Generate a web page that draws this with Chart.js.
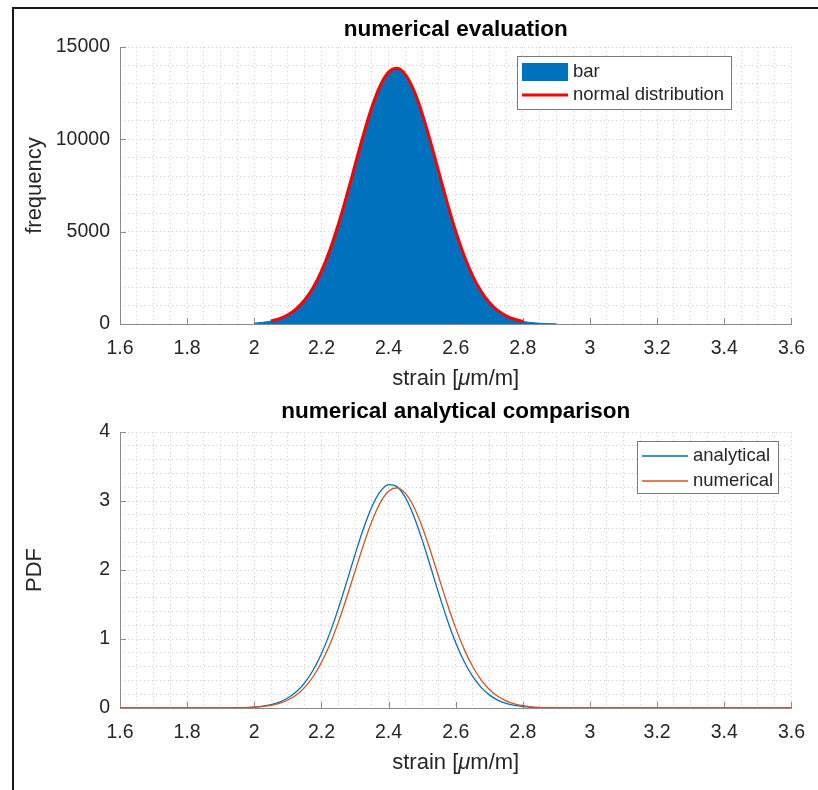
<!DOCTYPE html>
<html><head><meta charset="utf-8">
<script src="https://cdn.jsdelivr.net/npm/chart.js@4.4.0/dist/chart.umd.min.js"></script>
<style>
html,body{margin:0;padding:0;background:#fff;width:818px;height:790px;overflow:hidden}
#frame{position:absolute;left:12px;top:7px;width:830px;height:810px;border-left:2px solid #1a1a1a;border-top:2px solid #1a1a1a}
canvas{position:absolute;left:0}
#c1{top:0}
#c2{top:395px}
</style></head><body>
<div id="frame"></div>
<canvas id="c1" width="818" height="395"></canvas>
<canvas id="c2" width="818" height="395"></canvas>
<script>
// ---------- data ----------
const xMajorTicks = [1.6, 1.8, 2.0, 2.2, 2.4, 2.6, 2.8, 3.0, 3.2, 3.4, 3.6];
const yTopTicks = [0, 5000, 10000, 15000];
const yBottomTicks = [0, 1, 2, 3, 4];

// histogram (bar) : bin centre strain and frequency
const histStrain = [2.0, 2.025, 2.05, 2.075, 2.1, 2.125, 2.15, 2.175,
  2.2, 2.225, 2.25, 2.275, 2.3, 2.325, 2.35, 2.375, 2.4, 2.425,
  2.45, 2.475, 2.5, 2.525, 2.55, 2.575, 2.6, 2.625, 2.65, 2.675,
  2.7, 2.725, 2.75, 2.775, 2.8, 2.825, 2.85, 2.875, 2.9];
const histCount = [46, 89, 165, 294, 502, 823, 1298, 1967,
  2862, 4000, 5374, 6937, 8603, 10250, 11733, 12906, 13638, 13847,
  13508, 12660, 11401, 9863, 8200, 6549, 5025, 3705, 2625, 1787,
  1168, 734, 443, 257, 143, 77, 40, 20, 9];

// fitted normal distribution (red line)
const fitStrain = [2.05, 2.075, 2.1, 2.125, 2.15, 2.175, 2.2, 2.225, 2.25, 2.275,
  2.3, 2.325, 2.35, 2.375, 2.4, 2.425, 2.45, 2.475, 2.5, 2.525,
  2.55, 2.575, 2.6, 2.625, 2.65, 2.675, 2.7, 2.725, 2.75, 2.775, 2.8];
const fitCount = [165, 294, 502, 823, 1298, 1967, 2862, 4000, 5374, 6937,
  8603, 10250, 11733, 12906, 13638, 13847, 13508, 12660, 11401, 9863,
  8200, 6549, 5025, 3705, 2625, 1787, 1168, 734, 443, 257, 143];

// PDF comparison
const pdfStrain = [1.6, 1.9, 1.95, 1.975, 2.0, 2.025, 2.05, 2.075, 2.1, 2.125,
  2.15, 2.175, 2.2, 2.225, 2.25, 2.275, 2.3, 2.325, 2.35, 2.375,
  2.4, 2.425, 2.45, 2.475, 2.5, 2.525, 2.55, 2.575, 2.6, 2.625,
  2.65, 2.675, 2.7, 2.725, 2.75, 2.775, 2.8, 2.825, 2.85, 2.875,
  2.9, 3.0, 3.6];
const pdfAnalytical = [0, 0.0007, 0.0033, 0.0068, 0.0136, 0.0261, 0.0481, 0.0849, 0.1439, 0.2342,
  0.3655, 0.5475, 0.7867, 1.0854, 1.436, 1.8235, 2.2215, 2.5967, 2.9129, 3.135,
  3.2378, 3.2086, 3.0507, 2.7835, 2.4368, 2.047, 1.650, 1.2761, 0.947, 0.6742,
  0.4608, 0.302, 0.19, 0.1147, 0.0664, 0.0369, 0.0197, 0.0101, 0.0049, 0.0023,
  0.001, 0, 0];
const pdfNumerical = [0, 0.0005, 0.0026, 0.0053, 0.0107, 0.0206, 0.0381, 0.0677, 0.1156, 0.1896,
  0.299, 0.453, 0.6591, 0.9213, 1.2377, 1.5976, 1.9813, 2.3606, 2.7022, 2.9724,
  3.1409, 3.189, 3.1109, 2.9157, 2.6257, 2.2716, 1.8885, 1.5082, 1.1573, 0.8533,
  0.6045, 0.4115, 0.269, 0.169, 0.102, 0.0592, 0.033, 0.0177, 0.0091, 0.0045,
  0.0021, 0, 0];

// ---------- styling ----------
const FONT = "'Liberation Sans', Arial, Helvetica, sans-serif";
const TXT = '#262626';
const AXIS = '#8a8a8a';
const GRID = '#d2d2d2';
const BLUE = '#0072BD', ORANGE = '#D95319', RED = '#FF0000';

function pts(xs, ys) { return xs.map((x, i) => ({x: x, y: ys[i]})); }

function drawStrainLabel(ctx, cx, cy, size) {
  const p1 = 'strain [', p2 = '\u03BC', p3 = 'm/m]';
  const fN = size + 'px ' + FONT, fI = 'italic ' + size + 'px ' + FONT;
  ctx.font = fN; const w1 = ctx.measureText(p1).width, w3 = ctx.measureText(p3).width;
  ctx.font = fI; const w2 = ctx.measureText(p2).width;
  let x = cx - (w1 + w2 + w3) / 2;
  ctx.textAlign = 'left'; ctx.textBaseline = 'middle'; ctx.fillStyle = TXT;
  ctx.font = fN; ctx.fillText(p1, x, cy); x += w1;
  ctx.font = fI; ctx.fillText(p2, x, cy); x += w2;
  ctx.font = fN; ctx.fillText(p3, x, cy);
}

const decoPlugin = {
  id: 'deco',
  beforeDatasetsDraw(chart) {
    const ctx = chart.ctx, a = chart.chartArea, xs = chart.scales.x, ys = chart.scales.y;
    const o = chart.options.plugins.deco;
    ctx.save();
    ctx.strokeStyle = AXIS; ctx.lineWidth = 1;
    ctx.beginPath();
    ctx.moveTo(a.left + 0.5, a.top); ctx.lineTo(a.left + 0.5, a.bottom + 0.5); ctx.lineTo(a.right + 0.5, a.bottom + 0.5);
    xMajorTicks.forEach(v => { const px = Math.round(xs.getPixelForValue(v)) + 0.5; ctx.moveTo(px, a.bottom); ctx.lineTo(px, a.bottom - 6); });
    o.yTicks.forEach(v => { const py = Math.round(ys.getPixelForValue(v)) + 0.5; ctx.moveTo(a.left, py); ctx.lineTo(a.left + 6, py); });
    ctx.stroke();
    ctx.restore();
  },
  afterDraw(chart) {
    const ctx = chart.ctx, a = chart.chartArea;
    const o = chart.options.plugins.deco;
    ctx.save();
    const cx = (a.left + a.right) / 2;
    // title
    ctx.fillStyle = '#000'; ctx.font = 'bold ' + o.titleSize + 'px ' + FONT;
    ctx.textAlign = 'center'; ctx.textBaseline = 'middle';
    ctx.fillText(o.title, cx, o.titleY);
    // x title
    drawStrainLabel(ctx, cx, o.xTitleY, o.labelSize);
    // y title
    ctx.save();
    ctx.translate(o.yTitleX, (a.top + a.bottom) / 2);
    ctx.rotate(-Math.PI / 2);
    ctx.fillStyle = TXT; ctx.font = o.labelSize + 'px ' + FONT;
    ctx.textAlign = 'center'; ctx.textBaseline = 'middle';
    ctx.fillText(o.yTitle, 0, 0);
    ctx.restore();
    // legend
    const L = o.legend;
    ctx.fillStyle = '#fff'; ctx.fillRect(L.x, L.y, L.w, L.h);
    ctx.strokeStyle = '#7a7a7a'; ctx.lineWidth = 1;
    ctx.strokeRect(L.x + 0.5, L.y + 0.5, L.w, L.h);
    const ds = chart.data.datasets;
    L.rows.forEach((r, i) => {
      const d = ds[i];
      if (r.kind === 'box') {
        ctx.fillStyle = d.backgroundColor; ctx.fillRect(L.sx, r.y - 9, L.sw, 18);
      } else {
        ctx.strokeStyle = d.borderColor; ctx.lineWidth = d.borderWidth;
        ctx.beginPath(); ctx.moveTo(L.sx, r.y); ctx.lineTo(L.sx + L.sw, r.y); ctx.stroke();
      }
      ctx.fillStyle = TXT; ctx.font = L.size + 'px ' + FONT;
      ctx.textAlign = 'left'; ctx.textBaseline = 'middle';
      ctx.fillText(d.label, L.tx, r.y);
    });
    ctx.restore();
  }
};

function xScale() {
  return {
    type: 'linear', min: 1.6, max: 3.6,
    afterFit(s) { s.height = 71; },
    ticks: {
      stepSize: 0.05, autoSkip: false, maxRotation: 0, minRotation: 0, padding: 13,
      color: TXT, font: {family: FONT, size: 19.5, lineHeight: 1.2},
      callback(v) {
        const r = Math.round(v * 100);
        if (r % 20 !== 0) return '';
        return String(Math.round(v * 10) / 10);
      }
    },
    grid: {color: GRID, lineWidth: 1, drawTicks: false},
    border: {display: false, dash: [1.2, 2.8]}
  };
}

// ---------- top chart ----------
new Chart(document.getElementById('c1'), {
  type: 'line',
  data: {
    datasets: [
      {label: 'bar', data: pts(histStrain, histCount), borderColor: BLUE, backgroundColor: BLUE,
       fill: 'origin', borderWidth: 1, pointRadius: 0, cubicInterpolationMode: 'monotone', order: 1},
      {label: 'normal distribution', data: pts(fitStrain, fitCount), borderColor: RED, backgroundColor: RED,
       fill: false, borderWidth: 3, pointRadius: 0, cubicInterpolationMode: 'monotone', order: 0}
    ]
  },
  options: {
    responsive: false, animation: false, devicePixelRatio: 1,
    layout: {padding: {left: 0, top: 47, right: 25, bottom: 0}},
    plugins: {
      legend: {display: false}, tooltip: {enabled: false},
      deco: {
        title: 'numerical evaluation', titleY: 30, titleSize: 22.5,
        xTitleY: 379, yTitle: 'frequency', yTitleX: 35, labelSize: 22, yTicks: yTopTicks,
        legend: {x: 517, y: 56, w: 214, h: 53, sx: 522, sw: 46, tx: 573, size: 18.5,
          rows: [{kind: 'box', y: 72}, {kind: 'line', y: 95}]}
      }
    },
    scales: {
      x: xScale(),
      y: {
        type: 'linear', min: 0, max: 15000,
        afterFit(s) { s.width = 120; },
        ticks: {
          stepSize: 1000, autoSkip: false, padding: 10, color: TXT,
          font: {family: FONT, size: 19.5},
          callback(v) { return yTopTicks.includes(v) ? String(v) : ''; }
        },
        grid: {color: GRID, lineWidth: 1, drawTicks: false},
        border: {display: false, dash: [1.2, 2.8]}
      }
    }
  },
  plugins: [decoPlugin]
});

// ---------- bottom chart ----------
const xs2 = xScale();
xs2.afterFit = function (s) { s.height = 82; };
new Chart(document.getElementById('c2'), {
  type: 'line',
  data: {
    datasets: [
      {label: 'analytical', data: pts(pdfStrain, pdfAnalytical), borderColor: BLUE, backgroundColor: BLUE,
       fill: false, borderWidth: 1.3, pointRadius: 0, cubicInterpolationMode: 'monotone', order: 1},
      {label: 'numerical', data: pts(pdfStrain, pdfNumerical), borderColor: ORANGE, backgroundColor: ORANGE,
       fill: false, borderWidth: 1.3, pointRadius: 0, cubicInterpolationMode: 'monotone', order: 0}
    ]
  },
  options: {
    responsive: false, animation: false, devicePixelRatio: 1,
    layout: {padding: {left: 0, top: 37, right: 25, bottom: 0}},
    plugins: {
      legend: {display: false}, tooltip: {enabled: false},
      deco: {
        title: 'numerical analytical comparison', titleY: 17, titleSize: 22.5,
        xTitleY: 368, yTitle: 'PDF', yTitleX: 35, labelSize: 22, yTicks: yBottomTicks,
        legend: {x: 637, y: 46, w: 141, h: 52, sx: 642, sw: 46, tx: 693, size: 18.5,
          rows: [{kind: 'line', y: 61}, {kind: 'line', y: 86}]}
      }
    },
    scales: {
      x: xs2,
      y: {
        type: 'linear', min: 0, max: 4,
        afterFit(s) { s.width = 120; },
        ticks: {
          stepSize: 0.2, autoSkip: false, padding: 10, color: TXT,
          font: {family: FONT, size: 19.5},
          callback(v) { const r = Math.round(v * 10); return r % 10 === 0 ? String(r / 10) : ''; }
        },
        grid: {color: GRID, lineWidth: 1, drawTicks: false},
        border: {display: false, dash: [1.2, 2.8]}
      }
    }
  },
  plugins: [decoPlugin]
});
</script>
</body></html>
